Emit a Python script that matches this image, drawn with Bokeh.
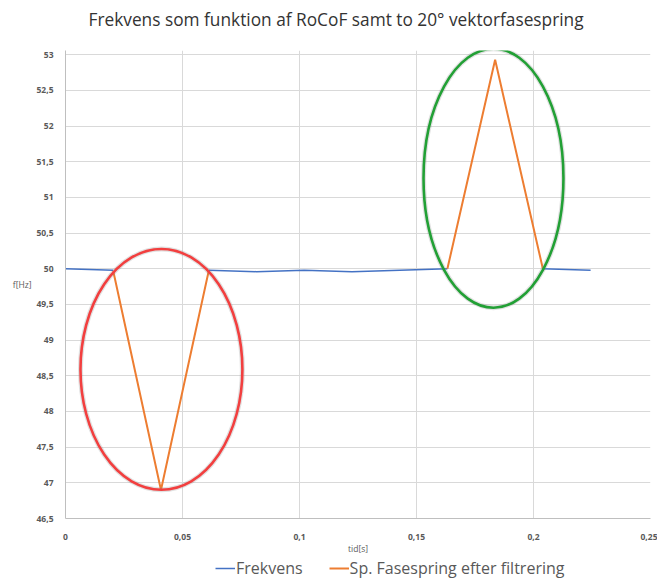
from bokeh.plotting import figure
from bokeh.models import FixedTicker, Legend, LegendItem, ColumnDataSource, Title
from bokeh.layouts import column
from bokeh.embed import file_html
from bokeh.resources import INLINE
import numpy as np

# ---- data ----
tid = [0.0, 0.0204, 0.0408, 0.0612, 0.0816, 0.102, 0.1224, 0.1428, 0.1632, 0.1836, 0.204, 0.2244]
frekvens = [50.0, 49.98, np.nan, 49.98, 49.96, 49.98, 49.96, 49.98, 50.0, np.nan, 50.0, 49.98]
fasespring = [np.nan, 49.97, 46.9, 49.97, np.nan, np.nan, np.nan, np.nan, 50.0, 52.93, 50.0, np.nan]

y_ticks = [46.5, 47, 47.5, 48, 48.5, 49, 49.5, 50, 50.5, 51, 51.5, 52, 52.5, 53]
x_ticks = [0, 0.05, 0.1, 0.15, 0.2, 0.25]

# highlight rings (annotation)
ring_x = [0.041, 0.1829]
ring_y = [48.59, 51.27]
ring_w = [0.0692, 0.0598]
ring_h = [3.375, 3.63]
ring_color = ["#F23F3F", "#22A035"]

FONT = "Open Sans"
GREY = "#595959"
BLUE = "#4472C4"
ORANGE = "#ED7D31"

def fmt(v):
    return ("%g" % v).replace(".", ",")

p = figure(frame_width=585, frame_height=468, x_range=(0, 0.25), y_range=(46.5, 53.06),
           output_backend="svg", toolbar_location=None,
           min_border_left=65, min_border_right=7, min_border_top=50, min_border_bottom=0,
           title="Frekvens som funktion af RoCoF samt to 20° vektorfasespring")
p.outline_line_color = None
p.background_fill_color = "white"
p.border_fill_color = "white"

p.title.align = "left"
p.title.text_font = FONT
p.title.text_font_size = "17.3px"
p.title.text_font_style = "normal"
p.title.text_color = "#333333"
p.title.offset = 23

# spacer between the title and the plot area
p.add_layout(Title(text=" ", text_font_size="3px"), "above")

for ax in (p.xaxis[0], p.yaxis[0]):
    ax.major_tick_line_color = None
    ax.minor_tick_line_color = None
    ax.axis_line_color = "#BFBFBF"
    ax.major_label_text_font = FONT
    ax.major_label_text_font_size = "8.5px"
    ax.major_label_text_font_style = "bold"
    ax.major_label_text_color = GREY
    ax.axis_label_text_font = FONT
    ax.axis_label_text_font_size = "8.5px"
    ax.axis_label_text_font_style = "normal"
    ax.axis_label_text_color = GREY

p.xaxis.ticker = FixedTicker(ticks=x_ticks)
p.yaxis.ticker = FixedTicker(ticks=y_ticks)
p.xaxis.major_label_overrides = {v: fmt(v) for v in x_ticks}
p.yaxis.major_label_overrides = {v: fmt(v) for v in y_ticks}
p.xaxis.axis_label = "tid[s]"
p.yaxis.axis_label = "f[Hz]"
p.yaxis.axis_label_orientation = "horizontal"
p.xaxis.major_label_standoff = 9
p.yaxis.major_label_standoff = 6
p.xaxis.axis_label_standoff = 0
p.yaxis.axis_label_standoff = 2

p.xgrid.ticker = FixedTicker(ticks=x_ticks)
p.ygrid.ticker = FixedTicker(ticks=y_ticks)
p.xgrid.grid_line_color = "#D9D9D9"
p.ygrid.grid_line_color = "#D9D9D9"

src = ColumnDataSource(dict(t=tid, f=frekvens, s=fasespring))
p.line("t", "f", source=src, line_color=BLUE, line_width=1.5)
p.line("t", "s", source=src, line_color=ORANGE, line_width=2)

rings = ColumnDataSource(dict(x=ring_x, y=ring_y, w=ring_w, h=ring_h, c=ring_color))
# soft shadow
p.ellipse(x="x", y="y", width="w", height="h", source=rings, fill_color=None,
          line_color="#888888", line_alpha=0.25, line_width=5)
p.ellipse(x="x", y="y", width="w", height="h", source=rings, fill_color=None,
          line_color="c", line_width=2.6)

# ---- legend strip underneath (separate small figure, same series styles) ----
lg = figure(width=657, height=24, x_range=(0, 1), y_range=(0, 1),
            x_axis_type=None, y_axis_type=None, output_backend="svg",
            toolbar_location=None, min_border=0)
lg.outline_line_color = None
lg.xgrid.visible = False
lg.ygrid.visible = False
lg.border_fill_color = "white"
l1 = lg.line("t", "f", source=src, line_color=BLUE, line_width=1.5)   # lies outside view
l2 = lg.line("t", "s", source=src, line_color=ORANGE, line_width=2)   # lies outside view

legend = Legend(items=[LegendItem(label="Frekvens", renderers=[l1]),
                       LegendItem(label="Sp. Fasespring efter filtrering", renderers=[l2])],
                orientation="horizontal", location=(150, 1))
legend.label_text_font = FONT
legend.label_text_font_size = "16px"
legend.label_text_color = GREY
legend.border_line_color = None
legend.background_fill_color = None
legend.glyph_width = 20
legend.glyph_height = 16
legend.label_height = 16
legend.label_standoff = 1
legend.spacing = 26
legend.padding = 0
legend.margin = 0
lg.add_layout(legend, "center")

layout = column(p, lg, spacing=0)
open("out.html", "w").write(file_html(layout, INLINE))
